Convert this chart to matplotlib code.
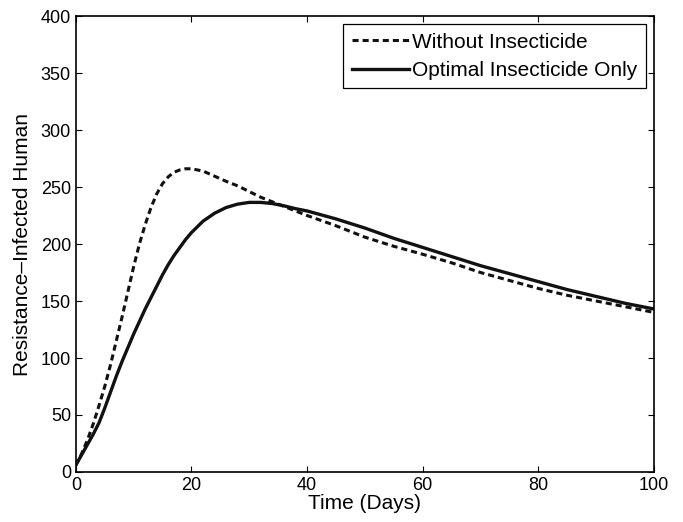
import numpy as np
import matplotlib
matplotlib.use("Agg")
import matplotlib.pyplot as plt

plt.rcParams['font.family'] = ['Liberation Sans', 'DejaVu Sans']

# time points (days)
days = [0, 1, 2, 3, 4, 5, 6, 7, 8, 9, 10, 11, 12, 13, 14, 15, 16, 17, 18, 19,
        20, 22, 24, 26, 28, 30, 32, 34, 36, 38, 40, 45, 50, 55, 60, 65, 70,
        75, 80, 85, 90, 95, 100]

# resistance-infected humans, no control
without_insecticide = [6, 16, 28, 42, 58, 75, 94, 115, 136, 158, 180, 200, 217,
                       232, 244, 253, 259, 263, 265, 266, 266, 264, 259.5, 255,
                       251, 246, 241, 237, 233, 229, 225, 216, 206, 198, 191,
                       183.5, 175, 168, 161, 155, 150, 145, 140]

# resistance-infected humans, optimal insecticide
optimal_insecticide = [6, 15, 24, 33, 43, 56, 70, 84, 97, 109, 121, 132, 143,
                       153, 163, 173, 182, 190, 197, 204, 210, 220, 227, 232,
                       235, 236.5, 236.5, 235.5, 233.5, 231, 229, 222, 214, 205,
                       197, 189, 181, 174, 167, 160, 154, 148, 143]

fig = plt.figure(figsize=(6.83, 5.22), dpi=100)
ax = fig.add_axes([0.111, 0.0958, 0.8465, 0.8735])

ax.plot(days, without_insecticide, color='#111111', lw=2.2, ls=(0, (2.0, 1.3)),
        label='Without Insecticide')
ax.plot(days, optimal_insecticide, color='#111111', lw=2.4, ls='-',
        label='Optimal Insecticide Only')

ax.set_xlim(0, 100)
ax.set_ylim(0, 400)
ax.set_xticks(np.arange(0, 101, 20))
ax.set_yticks(np.arange(0, 401, 50))
ax.tick_params(direction='in', top=True, right=True, length=4, width=0.8,
               labelsize=13, pad=3.5)
for sp in ax.spines.values():
    sp.set_linewidth(1.2)

ax.set_xlabel('Time (Days)', fontsize=15, labelpad=0)
ax.set_ylabel('Resistance\u2013Infected Human', fontsize=15, labelpad=6)

leg = ax.legend(loc='upper right', fontsize=15, handlelength=2.75,
                handletextpad=0.15, borderaxespad=0.4, borderpad=0.4,
                labelspacing=0.45, fancybox=False, framealpha=1)
leg.get_frame().set_edgecolor('black')
leg.get_frame().set_linewidth(0.9)

fig.savefig('out.png', dpi=100)
